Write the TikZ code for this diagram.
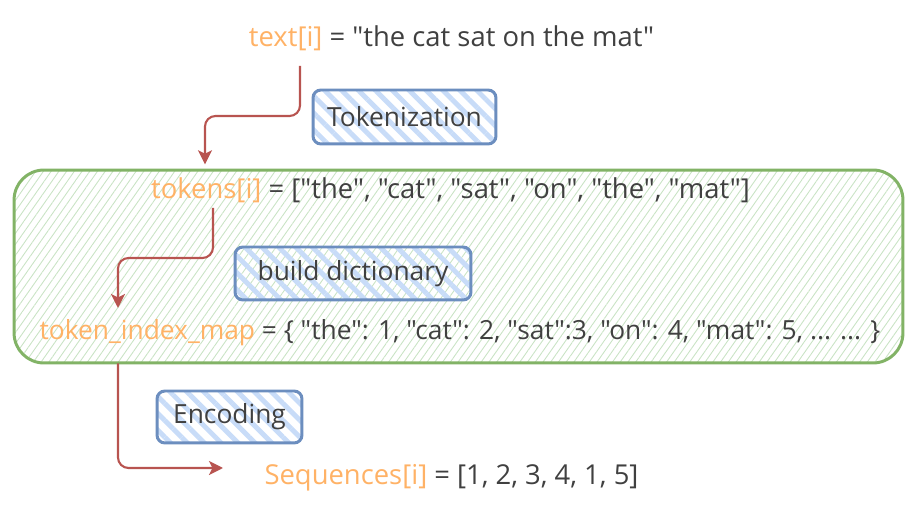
\documentclass[tikz,border=0pt]{standalone}
\usepackage{fontspec}
\setmainfont{Open Sans}[Ligatures=TeXOff]
\usetikzlibrary{arrows.meta,patterns.meta}
\definecolor{varorange}{HTML}{FFB266}
\definecolor{textgray}{HTML}{404040}
\definecolor{flowred}{HTML}{B85450}
\definecolor{stageblue}{HTML}{6C8EBF}
\definecolor{stagefill}{HTML}{C8DCF8}
\definecolor{groupgreen}{HTML}{82B366}
\definecolor{groupfill}{HTML}{C9E3C4}
\newcommand{\var}[1]{\textcolor{varorange}{#1}}
\begin{document}
\begin{tikzpicture}[x=0.02cm,y=-0.02cm,
    txt/.style={text=textgray,font=\fontsize{15.6}{18}\selectfont,inner sep=0pt},
    stage/.style={draw=stageblue,line width=1.7pt,rounded corners=4.5pt,
      pattern={Lines[angle=-45,distance=6.8pt,line width=2.8pt]},pattern color=stagefill,
      text=textgray,font=\fontsize{15}{18}\selectfont,inner sep=0pt},
    flow/.style={draw=flowred,line width=1.2pt,rounded corners=6pt,
      -{Stealth[length=8pt,width=8pt,inset=2pt]}}]
  \useasboundingbox (0,0) rectangle (913,509);
  \node[draw=groupgreen,line width=1.7pt,rounded corners=17pt,
    pattern={Lines[angle=55,distance=3.6pt,line width=0.5pt]},pattern color=groupfill,
    minimum width=17.78cm,minimum height=3.86cm] (group) at (458.5,266.5) {};
  \node[txt] (rawtext) at (451.5,38) {\var{text[i]} = "the cat sat on the mat"};
  \node[txt] (tokens) at (450.5,190) {\var{tokens[i]} = ["the", "cat", "sat", "on", "the", "mat"]};
  \node[txt,font=\fontsize{15}{18}\selectfont] (indexmap) at (460,333) {\var{token\_index\_map} = \{ "the": 1, "cat": 2, "sat":3, "on": 4, "mat": 5, ... ... \}};
  \node[txt] (sequences) at (451.5,478) {\var{Sequences[i]} = [1, 2, 3, 4, 1, 5]};
  \node[stage,minimum width=3.66cm,minimum height=1.08cm] (tokenize) at (404.5,117) {Tokenization};
  \node[stage,minimum width=4.72cm,minimum height=1.06cm] (builddict) at (353,273.5) {build dictionary};
  \node[stage,minimum width=2.9cm,minimum height=1.04cm] (encode) at (229.5,417) {Encoding};
  \coordinate (from1) at (300,66);
  \coordinate (from2) at (213,208);
  \coordinate (to3) at (223,468);
  \draw[flow] (from1) |- (205,116) -- ([yshift=3pt]205,0 |- group.north);
  \draw[flow] (from2) |- (118,258) -- (118,308);
  \draw[flow] (118,0 |- group.south) |- (to3);
\end{tikzpicture}
\end{document}
